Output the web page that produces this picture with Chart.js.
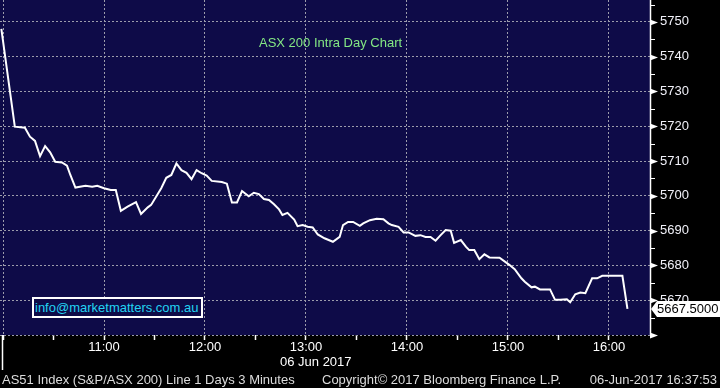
<!DOCTYPE html>
<html>
<head>
<meta charset="utf-8">
<script src="https://cdn.jsdelivr.net/npm/chart.js@4.4.0/dist/chart.umd.min.js"></script>
<style>
body { margin: 0; background: #000; }
#wrap { position: relative; width: 720px; height: 388px; overflow: hidden; font-family: "Liberation Sans", Arial, sans-serif; }
canvas { position: absolute; left: 0; top: 0; }
.t { position: absolute; white-space: nowrap; font-size: 13px; line-height: 15px; }
#info { left: 32px; top: 297px; width: 166px; height: 17px; border: 2px solid #fff; background: #0e0b48;
        color: #22d3f2; line-height: 17px; padding-left: 1px; box-sizing: content-box; }
</style>
</head>
<body>
<div id="wrap">
  <canvas id="chart" width="720" height="388"></canvas>
  <div class="t" style="left:259px;top:35px;color:#84e884">ASX 200 Intra Day Chart</div>
  <div class="t" id="info">info@marketmatters.com.au</div>
  <div class="t" style="left:280px;top:354px;color:#fff">06 Jun 2017</div>
  <div class="t" style="left:2px;top:372px;color:#dcdcdc">AS51 Index (S&amp;P/ASX 200) Line 1 Days 3 Minutes</div>
  <div class="t" style="left:322px;top:372px;color:#dcdcdc">Copyright© 2017 Bloomberg Finance L.P.</div>
  <div class="t" style="right:3px;top:372px;color:#dcdcdc">06-Jun-2017 16:37:53</div>
</div>
<script>
// minutes after 10:00 on 06 Jun 2017
var times = [-1, 7, 13, 16, 19, 22, 25, 28, 31, 35,
    38, 40, 43, 49, 53, 56, 60, 64, 67, 70,
    74, 79, 82, 86, 88, 94, 97, 100, 103, 106,
    109, 112, 115, 118, 121, 124, 130, 133, 136, 139,
    142, 146, 149, 152, 155, 158, 161, 164, 166, 169,
    173, 175, 178, 181, 184, 187, 191, 196, 200, 202,
    205, 208, 212, 214, 218, 222, 226, 229, 231, 235,
    238, 241, 245, 248, 251, 254, 257, 260, 263, 266,
    268, 272, 275, 277, 280, 283, 286, 289, 295, 299,
    301, 304, 308, 310, 314, 316, 319, 325, 328, 331,
    335, 337, 340, 343, 346, 350, 353, 356, 368, 371];
var prices = [5748, 5719.9, 5719.6, 5717, 5715.8, 5711.4, 5714.3, 5712.5, 5709.8, 5709.6,
    5708.7, 5706, 5702.4, 5702.9, 5702.6, 5702.9, 5702.2, 5701.7, 5701.7, 5695.7,
    5696.9, 5698.2, 5694.8, 5696.7, 5697.4, 5702.2, 5705.2, 5706, 5709.3, 5707.4,
    5706.6, 5704.8, 5707.4, 5706.5, 5705.8, 5704.3, 5704, 5703.5, 5698.1, 5698.1,
    5701.4, 5699.9, 5700.9, 5700.5, 5699.1, 5698.8, 5697.6, 5696.1, 5694.5, 5695.1,
    5693.2, 5691.3, 5691.6, 5691.1, 5690.9, 5688.9, 5687.8, 5686.8, 5688.2, 5691.6,
    5692.5, 5692.5, 5691.4, 5692.1, 5693, 5693.4, 5693.3, 5692.1, 5691.6, 5691.1,
    5689.5, 5689.5, 5688.5, 5688.7, 5688.2, 5688.2, 5687.1, 5688.7, 5690.2, 5690,
    5686.5, 5687.3, 5685.4, 5684.4, 5684.4, 5681.8, 5683.2, 5682.3, 5682.2, 5680.8,
    5680.1, 5678.9, 5676.3, 5675.3, 5673.7, 5673.9, 5673.1, 5673.1, 5670.1, 5670.1,
    5670.3, 5669.4, 5671.7, 5672.2, 5672, 5676.3, 5676.3, 5677, 5677, 5667.5];
var hourLabels = ['10:00', '11:00', '12:00', '13:00', '14:00', '15:00', '16:00'];
var lastLabel = '5667.5000';

var plotBg = '#0e0b48';
var gridColor = '#9c9cab';
var fontSpec = { family: '"Liberation Sans", Arial, sans-serif', size: 13 };

function zeroPadding(scale) {
    scale.paddingLeft = 0;
    scale.paddingRight = 0;
    scale.paddingTop = 0;
    scale.paddingBottom = 0;
}

var bloombergLook = {
    id: 'bloombergLook',
    beforeDraw: function(chart) {
        var ctx = chart.ctx, a = chart.chartArea;
        ctx.save();
        ctx.fillStyle = '#000';
        ctx.fillRect(0, 0, chart.width, chart.height);
        ctx.fillStyle = plotBg;
        ctx.fillRect(a.left, a.top, a.right - a.left, a.bottom - a.top);
        ctx.restore();
    },
    afterDraw: function(chart) {
        var ctx = chart.ctx, a = chart.chartArea;
        var y = chart.scales.y;
        ctx.save();
        ctx.strokeStyle = '#fff';
        ctx.fillStyle = '#fff';
        ctx.lineWidth = 1.5;
        // right axis line
        ctx.beginPath();
        ctx.moveTo(a.right + 0.5, a.top);
        ctx.lineTo(a.right + 0.5, a.bottom);
        ctx.stroke();
        // left edge line in the time strip
        ctx.beginPath();
        ctx.moveTo(2.5, a.bottom);
        ctx.lineTo(2.5, a.bottom + 35);
        ctx.stroke();
        // y ticks: arrows on tens, short marks on fives
        ctx.lineWidth = 1;
        for (var v = 5660; v <= 5755; v += 5) {
            var py = Math.round(y.getPixelForValue(v)) + 0.5;
            if (v % 10 === 0) {
                ctx.beginPath();
                ctx.moveTo(a.right, py - 3);
                ctx.lineTo(a.right + 8, py);
                ctx.lineTo(a.right, py + 3);
                ctx.closePath();
                ctx.fill();
            } else {
                ctx.beginPath();
                ctx.moveTo(a.right, py);
                ctx.lineTo(a.right + 5, py);
                ctx.stroke();
            }
        }
        // last value tag
        var ly = y.getPixelForValue(prices[prices.length - 1]);
        ctx.beginPath();
        ctx.moveTo(a.right + 1, ly);
        ctx.lineTo(a.right + 7, ly - 8);
        ctx.lineTo(chart.width, ly - 8);
        ctx.lineTo(chart.width, ly + 8);
        ctx.lineTo(a.right + 7, ly + 8);
        ctx.closePath();
        ctx.fill();
        ctx.fillStyle = '#000';
        ctx.font = '13px ' + fontSpec.family;
        ctx.textBaseline = 'middle';
        ctx.fillText(lastLabel, a.right + 7, ly + 1);
        ctx.restore();
    }
};

var points = times.map(function(t, i) { return { x: t, y: prices[i] }; });

new Chart(document.getElementById('chart'), {
    type: 'line',
    data: {
        datasets: [{
            data: points,
            borderColor: '#ffffff',
            borderWidth: 2,
            pointRadius: 0,
            tension: 0,
            fill: false
        }]
    },
    options: {
        responsive: false,
        animation: false,
        layout: { padding: 0, autoPadding: false },
        plugins: { legend: { display: false }, tooltip: { enabled: false } },
        scales: {
            x: {
                type: 'linear',
                min: -1.8,
                max: 384.4,
                afterFit: function(scale) { scale.height = 53; zeroPadding(scale); },
                border: { display: false, dash: [2, 2] },
                grid: {
                    color: function(c) { return c.tick && c.tick.value % 60 === 0 ? gridColor : 'rgba(0,0,0,0)'; },
                    lineWidth: 1,
                    drawTicks: true,
                    tickLength: 5,
                    tickColor: '#ffffff',
                    tickWidth: 1.5,
                    tickBorderDash: []
                },
                ticks: {
                    stepSize: 30,
                    includeBounds: false,
                    maxRotation: 0,
                    autoSkip: false,
                    padding: 0,
                    color: '#ffffff',
                    font: fontSpec,
                    callback: function(value) {
                        if (value % 60 !== 0 || value <= 0) return '';
                        return hourLabels[value / 60];
                    }
                }
            },
            y: {
                position: 'right',
                min: 5660,
                max: 5756.3,
                afterFit: function(scale) { scale.width = 70; zeroPadding(scale); },
                border: { display: false, dash: [2, 2] },
                grid: {
                    color: function(c) { return c.tick && c.tick.value % 10 === 0 ? gridColor : 'rgba(0,0,0,0)'; },
                    lineWidth: 1,
                    drawTicks: false
                },
                ticks: {
                    stepSize: 5,
                    includeBounds: false,
                    autoSkip: false,
                    padding: 10,
                    color: '#f0f0f8',
                    font: fontSpec,
                    callback: function(value) {
                        if (value % 10 !== 0 || value <= 5660) return '';
                        return String(value);
                    }
                }
            }
        }
    },
    plugins: [bloombergLook]
});
</script>
</body>
</html>
